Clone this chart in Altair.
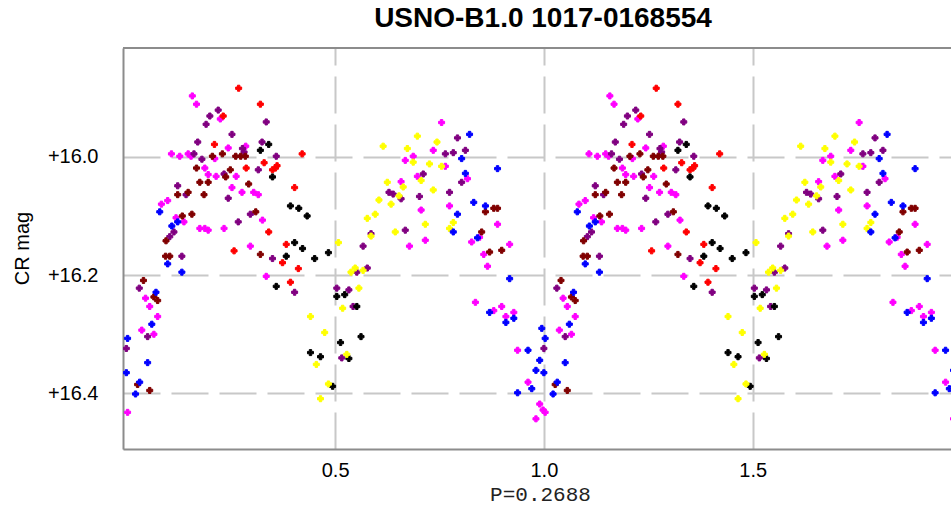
import altair as alt
import pandas as pd

# phase (0..1) and CR magnitude for each colour group
magenta_phase = [0.158,0.168,0.225,0.286,0.244,0.108,0.128,0.148,0.155,0.212,0.188,0.196,0.215,0.263,0.253,0.277,0.305,0.316,0.099,0.084,0.326,0.119,0.138,0.176,0.188,0.196,0.234,0.297,0.335,0.046,0.056,0.075,0.037,0.066,0.003,
                 0.755,0.735,0.687,0.668,0.764,0.697,0.817,0.658,0.706,0.774,0.889,0.846,0.827,0.678,0.716,0.918,0.856,0.865,0.836,0.880,0.899,0.909,0.928,0.937,0.962,0.990,0.998,0.981]
magenta_mag = [15.897,15.911,15.936,15.982,15.985,15.995,15.999,15.995,15.999,16.003,16.019,16.030,16.033,16.033,16.052,16.060,16.060,16.064,16.074,16.080,16.107,16.103,16.110,16.121,16.121,16.124,16.121,16.151,16.202,16.239,16.253,16.270,16.293,16.300,16.432,
               15.942,15.989,15.999,16.006,16.016,16.033,16.037,16.042,16.090,16.083,16.114,16.136,16.144,16.151,16.141,16.148,16.165,16.185,16.246,16.260,16.253,16.270,16.263,16.327,16.381,16.418,16.428,16.443]

purple_phase = [0.220,0.200,0.191,0.335,0.253,0.171,0.325,0.278,0.162,0.282,0.359,0.181,0.316,0.234,0.123,0.143,0.244,0.297,0.268,0.114,0.104,0.133,0.350,0.403,0.031,0.051,0.000,
                0.793,0.764,0.783,0.812,0.711,0.803,0.774,0.629,0.639,0.658,0.702,0.668,0.586,0.567,0.552,0.577,0.504,0.533,0.543,0.516]
purple_mag = [15.921,15.931,15.945,15.941,15.962,15.975,15.975,15.986,15.995,15.992,15.999,16.004,16.022,16.029,16.049,16.064,16.070,16.097,16.110,16.127,16.135,16.168,16.172,16.229,16.222,16.304,16.324,
              15.968,15.995,15.993,15.989,16.029,16.043,16.060,16.060,16.063,16.071,16.067,16.124,16.130,16.151,16.195,16.188,16.222,16.225,16.253,16.340]

maroon_phase = [0.206,0.230,0.262,0.274,0.285,0.168,0.249,0.238,0.176,0.196,0.293,0.123,0.148,0.186,0.134,0.157,0.310,0.095,0.094,0.104,0.321,0.041,0.066,0.075,0.027,0.056,
                0.880,0.889,0.860,0.851,0.870,0.899]
maroon_mag = [15.999,15.995,15.999,15.999,15.999,16.019,16.022,16.034,16.043,16.043,16.046,16.064,16.060,16.064,16.100,16.097,16.093,16.142,16.168,16.168,16.165,16.209,16.237,16.243,16.385,16.395,
              16.087,16.087,16.093,16.127,16.161,16.158]

red_phase = [0.269,0.321,0.232,0.211,0.421,0.287,0.330,0.350,0.357,0.361,0.403,0.341,0.258,0.383,0.374,0.412,0.393]
red_mag = [15.884,15.911,15.931,15.979,15.995,16.019,16.010,16.022,16.019,16.015,16.052,16.127,16.159,16.148,16.179,16.189,16.212]

black_phase = [0.341,0.321,0.350,0.393,0.413,0.433,0.403,0.422,0.383,0.451,0.484,0.359,0.441,0.465,0.494,0.504,0.523,0.513,0.552,0.562,0.533]
black_mag = [15.979,15.989,16.034,16.083,16.087,16.100,16.145,16.155,16.168,16.172,16.162,16.219,16.331,16.338,16.388,16.236,16.233,16.314,16.253,16.304,16.341]

yellow_phase = [0.508,0.441,0.475,0.455,0.484,0.465,0.518,0.528,0.697,0.615,0.673,0.744,0.687,0.726,0.755,0.706,0.625,0.663,0.735,0.653,0.605,0.634,0.577,0.596,0.716,0.783,0.774,0.644,0.586,0.538,0.548,0.567,0.557]
yellow_mag = [16.145,16.270,16.297,16.351,16.384,16.409,16.256,16.334,15.965,15.982,15.986,15.975,16.009,16.012,16.016,16.040,16.043,16.051,16.056,16.066,16.073,16.080,16.104,16.097,16.114,16.111,16.121,16.127,16.134,16.195,16.188,16.192,16.222]

blue_phase = [0.080,0.123,0.109,0.099,0.133,0.071,0.061,0.003,0.051,0.000,0.032,0.022,
              0.822,0.803,0.889,0.812,0.832,0.860,0.793,0.783,0.841,0.918,0.870,0.909,0.928,0.962,0.990,0.981,0.995,0.971,0.937]
blue_mag = [16.093,16.110,16.117,16.181,16.195,16.229,16.283,16.307,16.348,16.365,16.381,16.401,
            15.962,16.003,16.020,16.028,16.077,16.083,16.097,16.127,16.137,16.206,16.263,16.280,16.273,16.327,16.344,16.361,16.290,16.392,16.399]

groups = ["magenta", "purple", "maroon", "red", "black", "yellow", "blue"]
colors = ["#ff00ff", "#800080", "#800000", "#ff0000", "#000000", "#ffff00", "#0000ff"]
series = {
    "magenta": (magenta_phase, magenta_mag),
    "purple": (purple_phase, purple_mag),
    "maroon": (maroon_phase, maroon_mag),
    "red": (red_phase, red_mag),
    "black": (black_phase, black_mag),
    "yellow": (yellow_phase, yellow_mag),
    "blue": (blue_phase, blue_mag),
}

rows = []
for g in groups:
    ph, mg = series[g]
    for cycle in (0, 1):
        for p, m in zip(ph, mg):
            rows.append({"group": g, "phase": p + cycle, "mag": m})
df = pd.DataFrame(rows)

W, H = 828, 401
cscale = alt.Scale(domain=groups, range=colors)

points = alt.Chart(df).mark_point(shape="cross", filled=True, size=36, opacity=1,
                                   strokeWidth=1, clip=True).encode(
    x=alt.X("phase:Q",
            scale=alt.Scale(domain=[-0.008, 1.975], nice=False, zero=False),
            axis=alt.Axis(values=[0.5, 1.0, 1.5], format=".1f", title="P=0.2688",
                          ticks=False, labelPadding=11, labelFontSize=20, labelFont="Liberation Sans",
                          labelColor="#000000", titleFont="Liberation Mono", titleFontSize=21,
                          titleFontWeight="normal", titleColor="#222222",
                          titleX=417, titleY=45, titleBaseline="middle", titleAlign="center",
                          grid=True, gridColor="#c8c8c8", gridWidth=2, gridDash=[37, 11],
                          domainColor="#8c8c8c", domainWidth=2)),
    y=alt.Y("mag:Q",
            scale=alt.Scale(domain=[15.816, 16.494], reverse=True, nice=False, zero=False),
            axis=alt.Axis(values=[16.0, 16.2, 16.4], labelExpr="'+' + format(datum.value, '.1f')",
                          title="CR mag", ticks=False, labelPadding=25, labelFontSize=20,
                          labelFont="Liberation Sans", labelColor="#000000",
                          titleFont="Liberation Sans", titleFontSize=20, titleFontWeight="normal",
                          titleColor="#000000", titleAngle=-90, titleX=-101, titleY=200,
                          titleBaseline="middle", titleAlign="center",
                          grid=True, gridColor="#c8c8c8", gridWidth=2, gridDash=[37, 11],
                          domainColor="#8c8c8c", domainWidth=2)),
    fill=alt.Fill("group:N", scale=cscale, legend=None),
    stroke=alt.Stroke("group:N", scale=cscale, legend=None),
)

top_border = alt.Chart(df).mark_rule(color="#8c8c8c", strokeWidth=2).encode(
    x=alt.value(0), x2=alt.value(W), y=alt.value(0)
)

chart = alt.layer(points, top_border).properties(
    width=W, height=H,
    padding={"left": 123, "top": 48, "right": 0, "bottom": 59},
    autosize=alt.AutoSizeParams(type="none"),
    title=alt.TitleParams("USNO-B1.0 1017-0168554", font="Liberation Sans", fontSize=28,
                          fontWeight="bold", color="#000000", anchor="middle", dx=6, dy=27,
                          offset=19, baseline="alphabetic"),
).configure_view(stroke=None).configure(background="#ffffff")

chart.save("out.html", embed_options={"renderer": "svg", "actions": False})
